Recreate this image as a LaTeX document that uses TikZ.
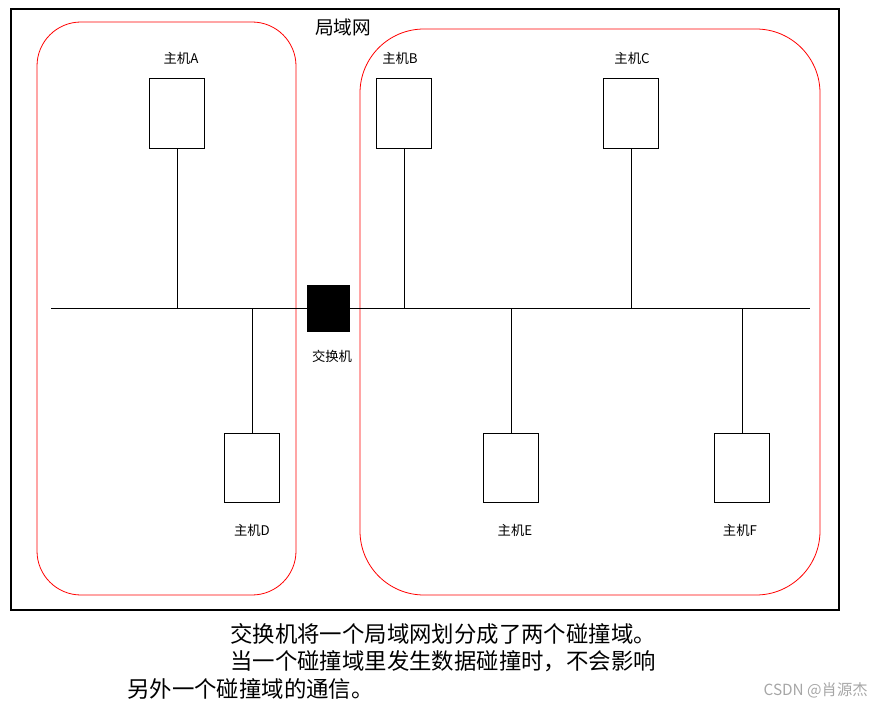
\documentclass[tikz,border=0pt]{standalone}
\usepackage{fontspec}
\setmainfont{Noto Sans CJK SC}
\begin{document}
\begin{tikzpicture}[x=0.75pt,y=-0.75pt,
  host/.style={draw,line width=0.6pt,minimum width=41.25pt,minimum height=52pt,inner sep=0pt},
  lbl/.style={font=\fontsize{10}{11}\selectfont,inner sep=0pt},
  big/.style={font=\fontsize{16.8}{18}\selectfont,inner sep=0pt,anchor=west},
  dom/.style={draw=red,line width=0.6pt}]
\useasboundingbox (0,0) rectangle (882,709);
\draw[line width=2.2pt] (11,9) rectangle (839,610);
\draw[dom,rounded corners=33pt] (37,22) rectangle (296,595);
\draw[dom,rounded corners=48pt] (360,29) rectangle (820,595);
\coordinate (bl) at (51,308); \coordinate (br) at (810,308);
\draw[line width=0.6pt] (bl) -- (br);
\node[fill=black,minimum width=32pt,minimum height=35pt,inner sep=0pt] (sw) at (328.5,308.5) {};
\node[lbl] at (332,356) {交换机};
\node[font=\fontsize{14}{16}\selectfont,inner sep=0pt] at (343,27) {局域网};
\foreach \n/\x/\y/\lx/\ly/\t in {A/177/113.5/181/58/主机A, B/404/113.5/400/58/主机B, C/631/113.5/632/58/主机C,
  D/252/468/252/530/主机D, E/511/468/515/530/主机E, F/742/468/740/530/主机F}{
  \node[host] (h\n) at (\x,\y) {};
  \node[lbl] (l\n) at (\lx,\ly) {\t};
  \coordinate (c\n) at (\x,308);
}
\foreach \n in {A,B,C}{\draw[line width=0.6pt] (h\n.south) -- (c\n);}
\foreach \n in {D,E,F}{\draw[line width=0.6pt] (h\n.north) -- (c\n);}
\node[big] at (230,634) {交换机将一个局域网划分成了两个碰撞域。};
\node[big] at (230,661) {当一个碰撞域里发生数据碰撞时，不会影响};
\node[big] at (127,689) {另外一个碰撞域的通信。};
\node[font=\fontsize{11.5}{13}\selectfont,text=gray!70,inner sep=0pt,anchor=east] at (868,690) {CSDN @肖源杰};
\end{tikzpicture}
\end{document}
